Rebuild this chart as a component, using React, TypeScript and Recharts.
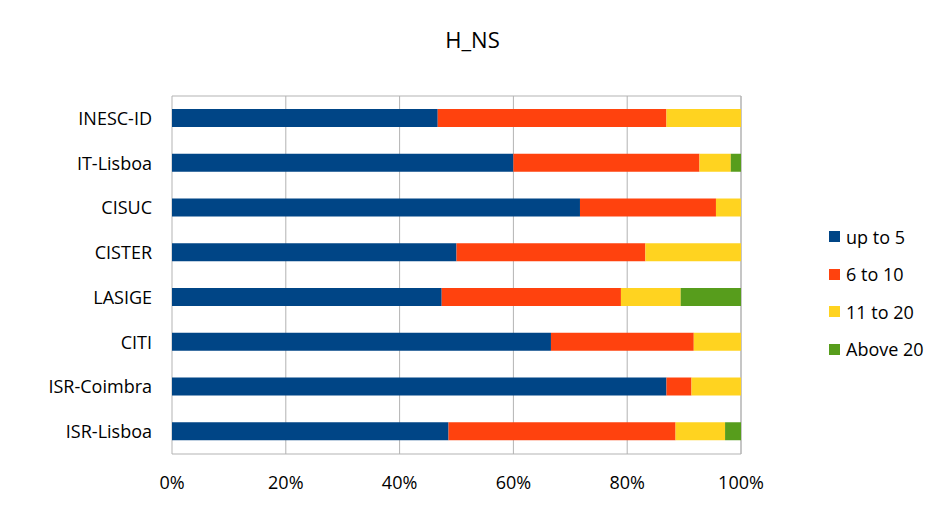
import { BarChart, Bar, XAxis, YAxis, CartesianGrid } from "recharts";

const institutes = ["INESC-ID", "IT-Lisboa", "CISUC", "CISTER", "LASIGE", "CITI", "ISR-Coimbra", "ISR-Lisboa"];
const upTo5 = [46.7, 60.0, 71.7, 50.0, 47.4, 66.6, 86.9, 48.6];
const sixTo10 = [40.2, 32.7, 23.9, 33.2, 31.5, 25.1, 4.4, 39.9];
const elevenTo20 = [13.1, 5.5, 4.4, 16.8, 10.5, 8.3, 8.7, 8.7];
const above20 = [0, 1.8, 0, 0, 10.6, 0, 0, 2.8];
const xTicks = [0, 20, 40, 60, 80, 100];

const series = [
  { key: "up to 5", values: upTo5, color: "#004586" },
  { key: "6 to 10", values: sixTo10, color: "#FF420E" },
  { key: "11 to 20", values: elevenTo20, color: "#FFD320" },
  { key: "Above 20", values: above20, color: "#579D1C" },
];

const data = institutes.map((name, i) => {
  const row: any = { name };
  series.forEach((s) => (row[s.key] = s.values[i]));
  return row;
});

const FONT = "'Open Sans', sans-serif";

// legend drawn as plain html so it doesn't eat into the plot width
const LegendBox = () => (
  <div style={{ position: "absolute", left: 829, top: 218, fontFamily: FONT, fontSize: 18, color: "#000" }}>
    {series.map((s) => (
      <div key={s.key} style={{ display: "flex", alignItems: "center", height: 37.5 }}>
        <span style={{ width: 11, height: 11, background: s.color, marginRight: 6 }} />
        <span>{s.key}</span>
      </div>
    ))}
  </div>
);

export default function App() {
  return (
    <div style={{ position: "absolute", left: 0, top: 0, width: 945, height: 531, background: "#fff", fontFamily: FONT }}>
      <div
        style={{
          position: "absolute",
          top: 24,
          width: 945,
          textAlign: "center",
          fontSize: 22,
          color: "#000",
        }}
      >
        H_NS
      </div>
      <BarChart
        width={945}
        height={531}
        data={data}
        layout="vertical"
        margin={{ top: 96, right: 204, left: 0, bottom: 47 }}
        barSize={18}
      >
        <CartesianGrid
          stroke="#b3b3b3"
          strokeWidth={1}
          horizontalCoordinatesGenerator={({ offset }: any) => [offset.top, offset.top + offset.height]}
        />
        <XAxis
          type="number"
          domain={[0, 100]}
          ticks={xTicks}
          tickFormatter={(v) => `${v}%`}
          axisLine={false}
          tickLine={false}
          tickSize={6}
          tickMargin={16}
          height={30}
          tick={{ fill: "#000", fontSize: 18, fontFamily: FONT }}
        />
        <YAxis
          type="category"
          dataKey="name"
          width={172}
          axisLine={false}
          tickLine={false}
          tickSize={6}
          tickMargin={14}
          tick={{ fill: "#000", fontSize: 18, fontFamily: FONT }}
        />
        {series.map((s) => (
          <Bar key={s.key} dataKey={s.key} stackId="a" fill={s.color} isAnimationActive={false} />
        ))}
      </BarChart>
      <LegendBox />
    </div>
  );
}
